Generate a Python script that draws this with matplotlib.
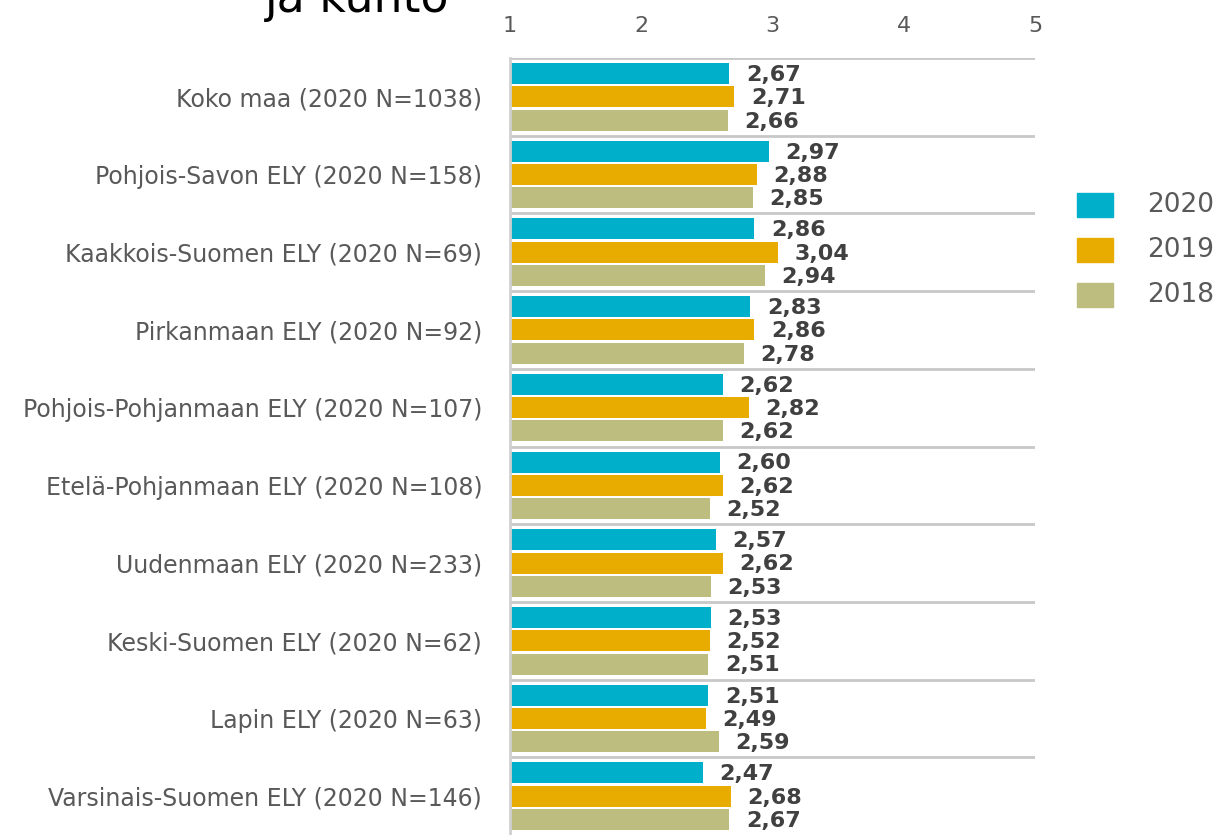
import matplotlib
matplotlib.use("Agg")
import matplotlib.pyplot as plt
from matplotlib.patches import Rectangle
import numpy as np

categories = [
    "Koko maa (2020 N=1038)",
    "Pohjois-Savon ELY (2020 N=158)",
    "Kaakkois-Suomen ELY (2020 N=69)",
    "Pirkanmaan ELY (2020 N=92)",
    "Pohjois-Pohjanmaan ELY (2020 N=107)",
    "Etelä-Pohjanmaan ELY (2020 N=108)",
    "Uudenmaan ELY (2020 N=233)",
    "Keski-Suomen ELY (2020 N=62)",
    "Lapin ELY (2020 N=63)",
    "Varsinais-Suomen ELY (2020 N=146)",
]
v2020 = [2.67, 2.97, 2.86, 2.83, 2.62, 2.60, 2.57, 2.53, 2.51, 2.47]
v2019 = [2.71, 2.88, 3.04, 2.86, 2.82, 2.62, 2.62, 2.52, 2.49, 2.68]
v2018 = [2.66, 2.85, 2.94, 2.78, 2.62, 2.52, 2.53, 2.51, 2.59, 2.67]
series_names = ["2020", "2019", "2018"]
colors = ["#00B0CA", "#E8AB00", "#BDBD80"]
xticks = [1, 2, 3, 4, 5]
title_text = "ja kunto"

W, H = 1221, 835
fig = plt.figure(figsize=(W / 100, H / 100), dpi=100)
ax = fig.add_axes([510 / W, 0, (1035 - 510) / W, 1 - 58 / H])

n = len(categories)
bar_h = 0.27
step = 0.30
for si, (vals, col) in enumerate(zip([v2020, v2019, v2018], colors)):
    ys = np.arange(n) + 0.5 + (si - 1) * step
    widths = np.array(vals) - 1
    ax.barh(ys, widths, left=1, height=bar_h, color=col, label=series_names[si])
    for y, v in zip(ys, vals):
        ax.annotate(f"{v:.2f}".replace(".", ","), (v, y), xytext=(12, -1),
                    textcoords="offset points", ha="left", va="center",
                    fontsize=16, fontweight="bold", color="#404040")

ax.set_xlim(1, 5)
ax.set_ylim(n, 0)
ax.set_xticks(xticks)
ax.set_xticklabels([str(t) for t in xticks])
ax.xaxis.tick_top()
ax.tick_params(axis="x", length=0, pad=16, labelsize=16, labelcolor="#595959")
ax.set_yticks(np.arange(n) + 0.5)
ax.set_yticklabels(categories)
ax.tick_params(axis="y", length=0, pad=20, labelsize=17, labelcolor="#595959")

for b in range(0, n):
    ax.axhline(b, color="#C8C8C8", lw=2, zorder=0)
for s in ["right", "bottom", "top"]:
    ax.spines[s].set_visible(False)
ax.spines["left"].set_color("#D0D0D0")
ax.spines["left"].set_linewidth(2)

# legend drawn manually in figure pixel positions
for i, (name, col) in enumerate(zip(series_names, colors)):
    y0 = 193 + i * 45
    fig.add_artist(Rectangle((1077 / W, 1 - (y0 + 24) / H), 36 / W, 24 / H,
                             transform=fig.transFigure, color=col))
    fig.text(1147 / W, 1 - (y0 + 12) / H, name, fontsize=19, color="#595959",
             ha="left", va="center")

fig.text(265 / W, 1 - 12 / H, title_text, fontsize=33, color="black", ha="left", va="baseline")

fig.savefig("out.png", dpi=100)
